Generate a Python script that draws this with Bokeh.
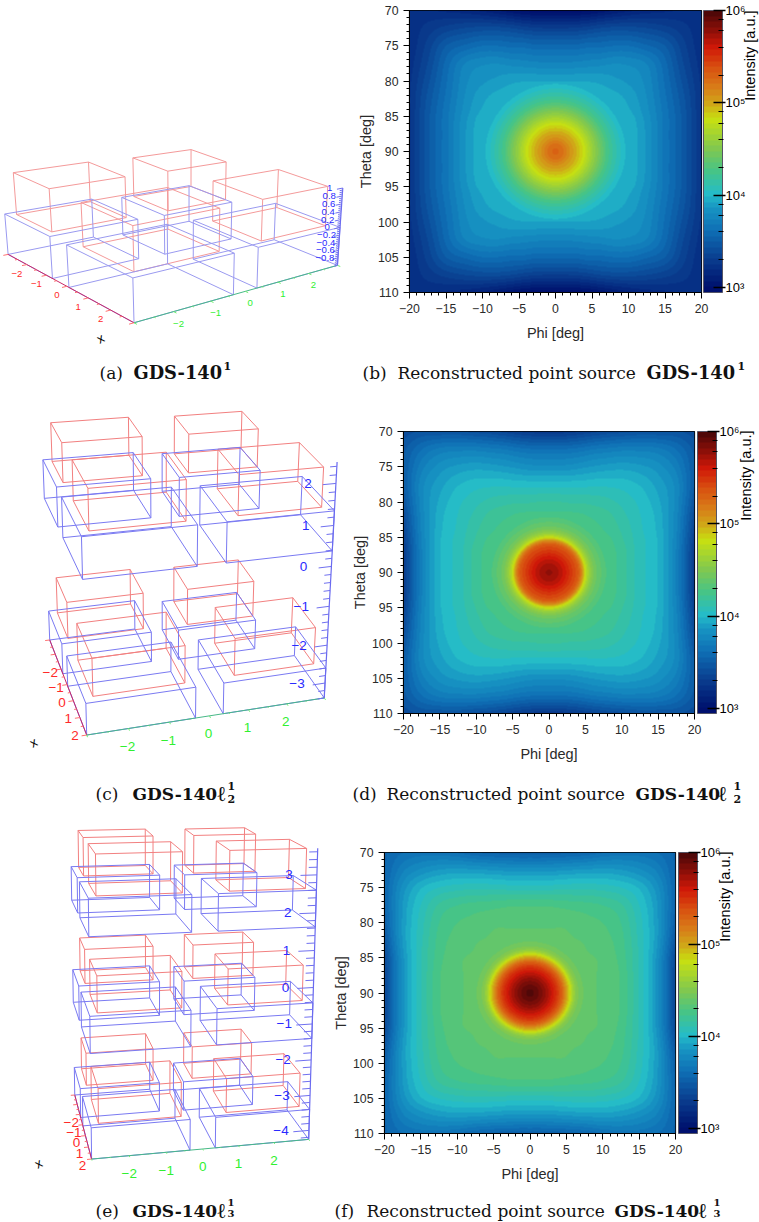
import numpy as np
from bokeh.plotting import figure
from bokeh.layouts import column, row
from bokeh.models import (Range1d, LinearColorMapper, LogColorMapper, ColorBar, LogTicker,
                          SingleIntervalTicker)
from bokeh.core.properties import value
from bokeh.embed import file_html
from bokeh.resources import INLINE

# ---------- data ----------
# Central peak: log10(intensity) against the distance from the centre (phi=0, theta=90), in degrees.
CORE_R_B = [0, 1, 2, 3, 4, 5, 6, 7, 8, 9, 10]
CORE_LOG_B = [5.30, 5.22, 5.08, 4.95, 4.80, 4.62, 4.45, 4.28, 4.15, 4.04, 3.95]
CORE_R_D = [0, 1, 2, 3, 3.5, 4, 4.5, 5, 5.5, 6, 6.5, 7, 8, 9]
CORE_LOG_D = [5.78, 5.72, 5.62, 5.48, 5.41, 5.33, 5.12, 4.82, 4.62, 4.50, 4.42, 4.37, 4.28, 4.20]
CORE_R_F = [0, 1, 2, 3, 4, 4.5, 5, 5.5, 6, 6.5, 7, 8, 9]
CORE_LOG_F = [5.98, 5.90, 5.78, 5.62, 5.42, 5.27, 5.05, 4.85, 4.62, 4.50, 4.44, 4.38, 4.34]
# Shoulder around the peak, quadrant samples of log10(intensity), offsets in degrees from the centre.
# Rows: |theta-90|, columns: |phi|.  The four quadrants look mirrored in the picture.
OFFSETS = [0, 1.5, 3, 4.5, 6, 8, 10, 12.5, 15, 17.5, 20]
LOG_I_B = [
    [3.98, 3.98, 3.98, 3.98, 3.98, 3.98, 3.97, 3.85, 3.66, 3.48, 3.25],
    [3.98, 3.98, 3.98, 3.98, 3.98, 3.98, 3.97, 3.85, 3.66, 3.48, 3.25],
    [3.98, 3.98, 3.98, 3.98, 3.98, 3.98, 3.97, 3.85, 3.66, 3.48, 3.25],
    [3.98, 3.98, 3.98, 3.98, 3.98, 3.97, 3.96, 3.84, 3.66, 3.48, 3.25],
    [3.98, 3.98, 3.98, 3.98, 3.97, 3.96, 3.93, 3.82, 3.65, 3.47, 3.25],
    [3.97, 3.97, 3.97, 3.97, 3.96, 3.94, 3.90, 3.80, 3.63, 3.45, 3.25],
    [3.92, 3.92, 3.92, 3.92, 3.91, 3.88, 3.85, 3.78, 3.61, 3.42, 3.24],
    [3.75, 3.75, 3.76, 3.77, 3.78, 3.80, 3.79, 3.74, 3.58, 3.38, 3.22],
    [3.58, 3.58, 3.58, 3.60, 3.60, 3.62, 3.62, 3.57, 3.50, 3.34, 3.20],
    [3.32, 3.32, 3.33, 3.35, 3.38, 3.40, 3.40, 3.38, 3.34, 3.28, 3.20],
    [2.97, 2.97, 2.98, 3.00, 3.03, 3.08, 3.12, 3.16, 3.18, 3.20, 3.20],
]
LOG_I_D = [
    [4.26, 4.26, 4.26, 4.26, 4.26, 4.26, 4.20, 4.07, 3.98, 3.74, 3.30],
    [4.26, 4.26, 4.26, 4.26, 4.26, 4.26, 4.20, 4.07, 3.98, 3.74, 3.30],
    [4.26, 4.26, 4.26, 4.26, 4.26, 4.26, 4.20, 4.07, 3.98, 3.74, 3.31],
    [4.26, 4.26, 4.26, 4.26, 4.26, 4.25, 4.18, 4.07, 3.98, 3.75, 3.33],
    [4.26, 4.26, 4.26, 4.26, 4.25, 4.22, 4.16, 4.06, 3.97, 3.76, 3.36],
    [4.25, 4.25, 4.25, 4.24, 4.22, 4.19, 4.13, 4.05, 3.96, 3.77, 3.40],
    [4.17, 4.17, 4.16, 4.16, 4.15, 4.13, 4.09, 4.03, 3.94, 3.78, 3.45],
    [4.02, 4.02, 4.02, 4.02, 4.03, 4.03, 4.02, 3.98, 3.90, 3.78, 3.50],
    [3.82, 3.82, 3.83, 3.85, 3.87, 3.89, 3.90, 3.88, 3.83, 3.72, 3.50],
    [3.62, 3.62, 3.63, 3.65, 3.68, 3.70, 3.72, 3.72, 3.70, 3.62, 3.48],
    [3.28, 3.29, 3.30, 3.33, 3.36, 3.40, 3.42, 3.45, 3.45, 3.45, 3.40],
]
LOG_I_F = [
    [4.36, 4.36, 4.36, 4.36, 4.36, 4.36, 4.34, 4.28, 4.10, 3.84, 3.38],
    [4.36, 4.36, 4.36, 4.36, 4.36, 4.36, 4.34, 4.28, 4.10, 3.84, 3.38],
    [4.36, 4.36, 4.36, 4.36, 4.36, 4.36, 4.34, 4.28, 4.10, 3.84, 3.38],
    [4.36, 4.36, 4.36, 4.36, 4.36, 4.36, 4.34, 4.27, 4.10, 3.84, 3.39],
    [4.36, 4.36, 4.36, 4.36, 4.36, 4.35, 4.33, 4.26, 4.10, 3.86, 3.42],
    [4.36, 4.36, 4.36, 4.36, 4.35, 4.34, 4.31, 4.25, 4.09, 3.88, 3.48],
    [4.34, 4.34, 4.34, 4.34, 4.33, 4.31, 4.29, 4.23, 4.08, 3.88, 3.52],
    [4.28, 4.28, 4.28, 4.27, 4.26, 4.25, 4.23, 4.18, 4.05, 3.87, 3.55],
    [4.08, 4.08, 4.08, 4.09, 4.09, 4.09, 4.08, 4.05, 3.98, 3.83, 3.56],
    [3.85, 3.85, 3.85, 3.86, 3.87, 3.88, 3.89, 3.87, 3.82, 3.73, 3.55],
    [3.52, 3.52, 3.53, 3.54, 3.55, 3.58, 3.62, 3.65, 3.65, 3.62, 3.55],
]
# Colour scale: log10 value and colour.
SCALE_LOG = [2.945, 3.0, 3.3, 3.6, 3.85, 4.0, 4.25, 4.5, 4.83, 5.0, 5.2, 5.4, 5.62, 5.8, 6.0]
SCALE_RGB = ["#00106e", "#001570", "#0a3f90", "#0f6fb5", "#1795c3", "#24bcc8", "#45c488", "#80c850",
             "#c8e010", "#d0a818", "#d87818", "#d85010", "#d01808", "#901008", "#500808"]
CBAR_LABELS = {1000: "10³", 10000: "10⁴", 100000: "10⁵", 1000000: "10⁶"}
PHI_TICKS = [-20, -15, -10, -5, 0, 5, 10, 15, 20]

# Wireframe: footprints of the four elements in a unit (x0, x1, y0, y1)
BLUE_BOXES = [(-3, -0.7, -3, -0.7), (0.1, 3, -3, -0.35), (-2.7, -0.6, 0, 2.1), (0.2, 3, 0.35, 3)]
RED_BOXES = [(-2.8, -1, -2.8, -0.85), (0.45, 2.67, -2.78, -0.55), (-2.6, -0.9, 0.3, 2.1), (0.55, 2.65, 0.7, 2.78)]
# Layers: (blue bottom, blue top / red bottom, red top)
LAYERS_A = [(-1, 0, 1)]
LAYERS_C = [(-3.4, -2.6, -1.65), (0.38, 1.35, 2.3)]
LAYERS_E = [(-4.26, -3.4, -2.45), (-1.4, -0.42, 0.55), (1.63, 2.6, 3.65)]
Z_TICKS_A = [1, 0.8, 0.6, 0.4, 0.2, 0, -0.2, -0.4, -0.6, -0.8]
Z_TICKS_C = [2, 1, 0, -1, -2, -3]
Z_TICKS_E = [3, 2, 1, 0, -1, -2, -3, -4]
XY_TICKS = [-2, -1, 0, 1, 2]

# Camera views: world point -> position in the panel, fitted to the picture's frame corners.
VIEW_A = [((-3,-3,-1),(8.3,249.3)),((3,-3,-1),(131.7,325)),((3,3,-1),(335,266)),((3,3,1),(340,182.7)),
          ((3,-3,0),(131.7,277.3)),((-3,-3,0),(5,214)),((3,3,0),(338.3,227.3)),((-2.7,2.1,0),(185,185.7)),
          ((-.6,2.1,0),(241.7,200.7)),((-2.7,0,0),(116.7,196.7)),((-.6,0,0),(169,215)),
          ((-2.8,-2.8,1),(14,172.3)),((-2.6,.3,1),(126,159)),((-2.6,2.1,1),(185,152)),((-.9,2.1,1),(232.3,162.3)),((-.9,.3,1),(170,170))]
VIEW_C = [((-3,-3,-3.4),(47.7,636.7)),((3,-3,-3.4),(89.3,738.3)),((3,3,-3.4),(319.3,703.3)),((3,3,2.5),(334.3,461.7)),
          ((3,3,1.35),(331.7,508.3)),((3,-3,-2.6),(88.3,702.7)),((-3,-3,-2.6),(46.7,606)),((3,3,-2.6),(321.7,670)),
          ((-3,-3,1.35),(38.7,464.3)),((3,-3,1.35),(82.3,531.7)),((-2.7,2.1,1.35),(241.7,449.3)),
          ((-.6,2.1,1.35),(275.7,471)),((-2.7,2.1,-2.6),(238.3,584.3)),
          ((-2.6,2.1,2.3),(238.3,413.3)),((-2.8,-2.8,2.3),(46,425.7)),((2.65,2.78,2.3),(321.7,460.7))]
VIEW_E = [((-3,-3,-4.26),(71.7,1091.7)),((3,-3,-4.26),(95,1162.3)),((3,3,-4.26),(303.3,1144)),((3,3,3.69),(312.7,844)),
          ((3,3,2.6),(311.7,885)),((3,-3,2.6),(89.3,900)),((3,-3,1.63),(90.7,930)),((-3,-3,2.6),(65.7,869)),
          ((-3,-3,-3.4),(70.7,1062.3)),((3,-3,-3.4),(94.3,1128.3)),((3,3,-3.4),(305,1111.7)),
          ((-2.7,2.1,2.6),(246.7,865)),((-.6,2.1,2.6),(271.7,871.7)),((-2.7,2.1,-3.4),(244.3,1051.7)),
          ((-2.8,-2.8,3.65),(71.7,833.3)),((-2.6,2.1,3.65),(243,832))]

SANS = value("Liberation Sans")
SERIF = value("DejaVu Serif")
MINUS = "\u2212"


def fmt(v):
    s = f"{abs(v):g}"
    return (MINUS + s) if v < 0 else s


def fit_camera(view):
    # Linear camera fit, reweighted so that the error is measured in pixels.
    w = np.ones(len(view))
    P = None
    for _ in range(25):
        rows = []
        for k, ((x, y, z), (u, v)) in enumerate(view):
            u, v = u / 300.0, v / 300.0
            rows.append(np.array([x, y, z, 1, 0, 0, 0, 0, -u * x, -u * y, -u * z, -u]) / w[k])
            rows.append(np.array([0, 0, 0, 0, x, y, z, 1, -v * x, -v * y, -v * z, -v]) / w[k])
        P = np.linalg.svd(np.array(rows, float))[2][-1].reshape(3, 4)
        W = np.array([P[2] @ np.array([*pt, 1.0]) for pt, _ in view])
        if W.mean() < 0:
            P, W = -P, -W
        w = W / np.abs(W).mean()
    return P


def project(P, pts):
    h = P @ np.c_[np.asarray(pts, float), np.ones(len(pts))].T
    return h[0] / h[2] * 300.0, h[1] / h[2] * 300.0


def box_edges(P, b, z0, z1):
    x0, x1, y0, y1 = b
    c = [(x, y, z) for z in (z0, z1) for x, y in ((x0, y0), (x1, y0), (x1, y1), (x0, y1))]
    u, v = project(P, c)
    pairs = [(0, 1), (1, 2), (2, 3), (3, 0), (4, 5), (5, 6), (6, 7), (7, 4), (0, 4), (1, 5), (2, 6), (3, 7)]
    return [[u[a], u[b_]] for a, b_ in pairs], [[v[a], v[b_]] for a, b_ in pairs]


def segs(P, pts_a, pts_b):
    ua, va = project(P, pts_a)
    ub, vb = project(P, pts_b)
    return [[a, b] for a, b in zip(ua, ub)], [[a, b] for a, b in zip(va, vb)]


def wire_panel(view, layers, width, top, bottom, zticks, ztick_step, minor_d, major_d, font, x_off, y_off, z_dx,
               z_range, red, blue, x_label):
    P = fit_camera(view)
    p = figure(width=width, height=bottom - top, x_range=Range1d(0, width), y_range=Range1d(bottom, top),
               toolbar_location=None, output_backend="svg", min_border=0, outline_line_color=None)
    p.axis.visible = False
    p.grid.visible = False
    for (zb, zm, zt) in layers:
        for boxes, z0, z1, col in ((RED_BOXES, zm, zt, red), (BLUE_BOXES, zb, zm, blue)):
            xs, ys = [], []
            for b in boxes:
                a, c = box_edges(P, b, z0, z1)
                xs += a
                ys += c
            p.multi_line(xs, ys, line_color=col, line_width=1)
    zb, ztop = z_range
    # axes
    xs, ys = segs(P, [(-3, -3, zb)], [(3, -3, zb)])
    p.multi_line(xs, ys, line_color="#c82868", line_width=1)
    xs, ys = segs(P, [(3, -3, zb)], [(3, 3, zb)])
    p.multi_line(xs, ys, line_color="#48b888", line_width=1)
    xs, ys = segs(P, [(3, 3, zb)], [(3, 3, ztop)])
    p.multi_line(xs, ys, line_color="#6a6af0", line_width=1.2)
    half = np.arange(-3, 3.01, 0.5)
    size = [0.12 if abs(t - round(t)) < 1e-6 else 0.06 for t in half]
    xs, ys = segs(P, [(t, -3, zb) for t in half], [(t, -3 - s, zb) for t, s in zip(half, size)])
    p.multi_line(xs, ys, line_color="#ff7070", line_width=1)
    xs, ys = segs(P, [(3, t, zb) for t in half], [(3 + s, t, zb) for t, s in zip(half, size)])
    p.multi_line(xs, ys, line_color="#70f070", line_width=1)
    first = np.ceil(zb / ztick_step) * ztick_step
    zall = np.arange(first, ztop + 1e-6, ztick_step)
    zset = set(round(float(t), 3) for t in zticks)
    lens = [major_d if round(float(t), 3) in zset else minor_d for t in zall]
    xs, ys = segs(P, [(3, 3, t) for t in zall], [(3, 3 - d, t) for t, d in zip(zall, lens)])
    p.multi_line(xs, ys, line_color="#7070f0", line_width=1)
    # tick labels
    u, v = project(P, [(t, -3, zb) for t in XY_TICKS])
    p.text(u + x_off[0], v + x_off[1], text=[fmt(t) for t in XY_TICKS], text_color="#ff2a2a", text_font=SANS,
           text_font_size=font, text_align="center", text_baseline="middle")
    u, v = project(P, [(3, t, zb) for t in XY_TICKS])
    p.text(u + y_off[0], v + y_off[1], text=[fmt(t) for t in XY_TICKS], text_color="#30f030", text_font=SANS,
           text_font_size=font, text_align="center", text_baseline="middle")
    u, v = project(P, [(3, 3, t) for t in zticks])
    p.text(u + z_dx, v, text=[fmt(t) for t in zticks], text_color="#2a2aff", text_font=SANS,
           text_font_size=font, text_align="center", text_baseline="middle")
    p.text([x_label[0]], [x_label[1]], text=["x"], text_color="black", text_font=SANS, text_font_size="13px",
           text_align="center", text_baseline="middle", angle=0.5)
    return p


def hermite(xn, yn, xq):
    """Cubic Hermite along the last axis, only to draw the read grid as a smooth surface."""
    xn = np.asarray(xn, float)
    m = np.gradient(yn, xn, axis=-1)
    i = np.clip(np.searchsorted(xn, xq) - 1, 0, len(xn) - 2)
    h = xn[i + 1] - xn[i]
    t = (xq - xn[i]) / h
    return ((2 * t**3 - 3 * t**2 + 1) * yn[..., i] + (t**3 - 2 * t**2 + t) * h * m[..., i]
            + (-2 * t**3 + 3 * t**2) * yn[..., i + 1] + (t**3 - t**2) * h * m[..., i + 1])


def surface(table, core_r, core_log, nx, ny):
    off = np.array(OFFSETS, float)
    full_axis = np.r_[-off[:0:-1], off]
    t = np.array(table, float)
    t = np.c_[t[:, :0:-1], t]
    t = np.r_[t[:0:-1], t]
    xq = np.linspace(-20, 20, nx)
    yq = np.linspace(-20, 20, ny)
    a = hermite(full_axis, t, xq)
    shoulder = hermite(full_axis, a.T, yq).T
    xx, yy = np.meshgrid(xq, yq)
    r = np.hypot(xx, yy)
    peak = np.where(r <= core_r[-1], hermite(core_r, np.array(core_log, float), r), -9.0)
    return np.maximum(shoulder, peak)


def blend_palette(n=50):
    def rgb(h):
        return [int(h[k:k + 2], 16) for k in (1, 3, 5)]
    cols = np.array([rgb(c) for c in SCALE_RGB], float)
    centres = np.linspace(SCALE_LOG[0], SCALE_LOG[-1], n)
    out = []
    for c in centres:
        out.append("#%02x%02x%02x" % tuple(int(round(np.interp(c, SCALE_LOG, cols[:, k]))) for k in range(3)))
    return out


PALETTE = blend_palette()


def heat_panel(table, core_r, core_log, x_left, x_right, top, bottom, frame, gap):
    fl, ft, fr, fb = frame
    p = figure(width=x_right - x_left, height=bottom - top, x_range=Range1d(-20, 20), y_range=Range1d(110, 70),
               toolbar_location=None, output_backend="svg",
               min_border_left=fl - x_left, min_border_right=x_right - fr, min_border_top=ft - top,
               min_border_bottom=bottom - fb, outline_line_color="black", outline_line_width=1.2,
               x_axis_label="Phi [deg]", y_axis_label="Theta [deg]")
    p.grid.visible = False
    mapper = LinearColorMapper(palette=PALETTE, low=SCALE_LOG[0], high=SCALE_LOG[-1])
    p.image(image=[surface(table, core_r, core_log, fr - fl, fb - ft)], x=-20, y=70, dw=40, dh=40, color_mapper=mapper)
    for ax in (p.xaxis[0], p.yaxis[0]):
        ax.ticker = SingleIntervalTicker(interval=5, num_minor_ticks=5)
        ax.major_tick_in = 0
        ax.major_tick_out = 6
        ax.minor_tick_in = 0
        ax.minor_tick_out = 3
        ax.major_tick_line_color = "black"
        ax.minor_tick_line_color = "black"
        ax.axis_line_color = "black"
        ax.major_label_text_font = "Liberation Sans"
        ax.major_label_text_font_size = "12.3px"
        ax.major_label_text_color = "#2a2a2a"
        ax.major_label_standoff = 5
        ax.axis_label_text_font = "Liberation Sans"
        ax.axis_label_text_font_size = "14.5px"
        ax.axis_label_text_font_style = "normal"
        ax.axis_label_text_color = "#2a2a2a"
    p.xaxis[0].major_label_overrides = {t: fmt(t) for t in PHI_TICKS}
    p.xaxis[0].axis_label_standoff = 9
    p.yaxis[0].axis_label_standoff = 1
    log_map = LogColorMapper(palette=PALETTE, low=10 ** SCALE_LOG[0], high=10 ** SCALE_LOG[-1])
    cb = ColorBar(color_mapper=log_map, ticker=LogTicker(), width=19, height=fb - ft, padding=0, margin=0,
                  location=(gap, 0), major_label_overrides=CBAR_LABELS, major_label_text_font="Liberation Sans",
                  major_label_text_font_size="13px", major_label_text_color="black", label_standoff=0,
                  major_tick_in=9, major_tick_out=3, minor_tick_in=4, minor_tick_out=1,
                  major_tick_line_color="black", minor_tick_line_color="black",
                  major_tick_line_width=1.5, minor_tick_line_width=1.2,
                  bar_line_color="#555566", bar_line_width=1,
                  border_line_color=None, background_fill_color=None)
    p.add_layout(cb, "right")
    return p


def side_label(x_left, overlap, base_x, top, bottom, text_top):
    x0 = x_left - overlap
    p = figure(width=759 - x0, height=bottom - top, x_range=Range1d(x0, 759), y_range=Range1d(bottom, top),
               toolbar_location=None, output_backend="svg", min_border=0, outline_line_color=None,
               background_fill_color=None, border_fill_color=None, margin=(0, 0, 0, -overlap))
    p.axis.visible = False
    p.grid.visible = False
    p.text([base_x], [text_top], text=["Intensity [a.u.]"], angle=np.pi / 2, text_font=SANS, text_font_size="14.5px",
           text_color="black", text_align="right", text_baseline="alphabetic")
    return p


def caption_strip(top, bottom, base, pieces):
    p = figure(width=759, height=bottom - top, x_range=Range1d(0, 759), y_range=Range1d(bottom, top),
               toolbar_location=None, output_backend="svg", min_border=0, outline_line_color=None)
    p.axis.visible = False
    p.grid.visible = False
    for x, dy, txt, size, style in pieces:
        p.text([x], [base + dy], text=[txt], text_font=SERIF, text_font_size=size, text_font_style=style,
               text_color="#111111", text_align="left", text_baseline="alphabetic")
    return p


A = wire_panel(VIEW_A, LAYERS_A, 345, 0, 350, Z_TICKS_A, 0.05, 0.1, 0.2, "9.6px", (-10, 9), (5, 12), -13, (-1, 1),
               "#f49a9a", "#9a9af0", (100, 338))
C = wire_panel(VIEW_C, LAYERS_C, 340, 385, 770, Z_TICKS_C, 0.2, 0.17, 0.33, "13.5px", (-5, 18), (-1, 18), -28, (-3.4, 2.5),
               "#f28080", "#7a7af2", (33, 742))
E = wire_panel(VIEW_E, LAYERS_E, 320, 805, 1190, Z_TICKS_E, 0.2, 0.23, 0.45, "13.5px", (-6, 18), (0, 18), -28, (-4.26, 3.69),
               "#f28080", "#7a7af2", (38, 1163))

B = heat_panel(LOG_I_B, CORE_R_B, CORE_LOG_B, 345, 752, 0, 350, (409, 10, 701, 292), 2)
D = heat_panel(LOG_I_D, CORE_R_D, CORE_LOG_D, 340, 745, 385, 770, (403, 431, 694, 713), 3)
F = heat_panel(LOG_I_F, CORE_R_F, CORE_LOG_F, 320, 726, 805, 1190, (384, 852, 675, 1133), 3)
LB = side_label(752, 12, 749.5, 0, 350, 10)
LD = side_label(745, 12, 745, 385, 770, 430)
LF = side_label(726, 12, 724, 805, 1190, 851)

N = "normal"
BD = "bold"
S = "17px"
T1 = "17.8px"
T2 = "17px"
L = "21px"
CAP1 = caption_strip(350, 385, 372, [(99, 0, "(a)", S, N), (133, 0, "GDS-140", T1, BD), (223, -7, "1", "11px", BD),
                                     (362, 0, "(b)", S, N), (397, 0, "Reconstructed point source", S, N),
                                     (646, 0, "GDS-140", T1, BD), (737, -7, "1", "11px", BD)])
CAP2 = caption_strip(770, 805, 793, [(95, 0, "(c)", S, N), (132, 0, "GDS-140", T2, BD), (217, 0, "ℓ", L, BD),
                                     (227, -8, "1", "11px", BD), (227, 5, "2", "11px", BD),
                                     (352, 0, "(d)", S, N), (386, 0, "Reconstructed point source", S, N),
                                     (635, 0, "GDS-140", T2, BD), (718, 0, "ℓ", L, BD),
                                     (733, -8, "1", "11px", BD), (733, 5, "2", "11px", BD)])
CAP3 = caption_strip(1190, 1222, 1210, [(95, 0, "(e)", S, N), (132, 0, "GDS-140", T2, BD), (217, 0, "ℓ", L, BD),
                                        (227, -8, "1", "10px", BD), (227, 3, "3", "10px", BD),
                                        (334, 0, "(f)", S, N), (366, 0, "Reconstructed point source", S, N),
                                        (614, 0, "GDS-140", T2, BD), (698, 0, "ℓ", L, BD),
                                        (713, -8, "1", "10px", BD), (713, 3, "3", "10px", BD)])


def cell(fig):
    # A column of its own keeps each figure's frame independent of its neighbours in the row.
    return column(fig, spacing=0)


page = column(row(cell(A), cell(B), LB), CAP1, row(cell(C), cell(D), LD), CAP2,
              row(cell(E), cell(F), LF), CAP3, spacing=0,
              styles={"position": "absolute", "left": "0px", "top": "0px"})
open("out.html", "w").write(file_html(page, INLINE))
